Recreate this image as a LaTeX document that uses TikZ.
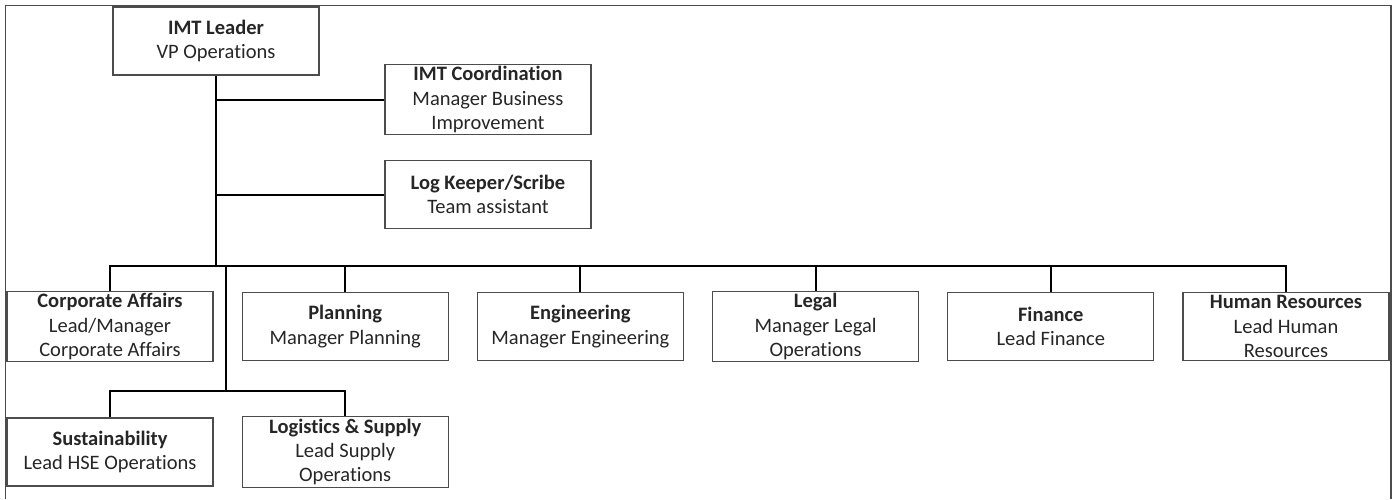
\documentclass[tikz,border=0pt]{standalone}
\usepackage{fontspec}
\setmainfont{Carlito}[Ligatures=NoCommon]
\usetikzlibrary{positioning,calc}

\begin{document}
\begin{tikzpicture}[
    x=1pt, y=-1pt,
    font=\fontsize{20.5}{24.4}\selectfont,
    node distance=28pt,
    block/.style={draw=black!70, line width=1.2pt, rectangle, align=center, minimum width=206pt, minimum height=68pt, inner sep=2pt, text=black!85},
    link/.style={draw, line width=2pt},
    frame/.style={draw=black!70, line width=1.6pt}
]
\useasboundingbox (0,0) rectangle (1397,499);

% Rahmen
\draw[frame] (5.5,499) -- (5.5,5.5) -- (1391,5.5) -- (1391,499);

% Leitung
\node[block] (leader) at (216,41) {\textbf{IMT Leader}\\VP Operations};

% Stab
\node[block] (coord) at (488,99.5) {\textbf{IMT Coordination}\\Manager Business\\Improvement};
\node[block] (scribe) at (488,194.5) {\textbf{Log Keeper/Scribe}\\Team assistant};

% erste Reihe
\node[block] (corp) at (110,326.5) {\textbf{Corporate Affairs}\\Lead/Manager\\Corporate Affairs};
\node[block, right=of corp] (plan) {\textbf{Planning}\\Manager Planning};
\node[block, right=of plan] (eng) {\textbf{Engineering}\\Manager Engineering};
\node[block, right=of eng] (legal) {\textbf{Legal}\\Manager Legal\\Operations};
\node[block, right=of legal] (fin) {\textbf{Finance}\\Lead Finance};
\node[block, right=of fin] (hr) {\textbf{Human Resources}\\Lead Human\\Resources};

% zweite Reihe
\node[block] (sust) at (110,452) {\textbf{Sustainability}\\Lead HSE Operations};
\node[block, right=of sust] (logis) {\textbf{Logistics \& Supply}\\Lead Supply\\Operations};

% Verbindungen
\coordinate (bus) at (216,266);
\coordinate (subbus) at (226,391);
\draw[link] (leader.south) -- (bus);
\draw[link] (leader.south |- coord.west) -- (coord.west);
\draw[link] (leader.south |- scribe.west) -- (scribe.west);
\draw[link] (corp.north) -- (corp.north |- bus) -- (hr.north |- bus) -- (hr.north);
\foreach \n in {plan,eng,legal,fin}
    \draw[link] (\n.north) -- (\n.north |- bus);
\draw[link] (subbus |- bus) -- (subbus);
\draw[link] (sust.north) -- (sust.north |- subbus) -- (logis.north |- subbus) -- (logis.north);

\end{tikzpicture}
\end{document}
